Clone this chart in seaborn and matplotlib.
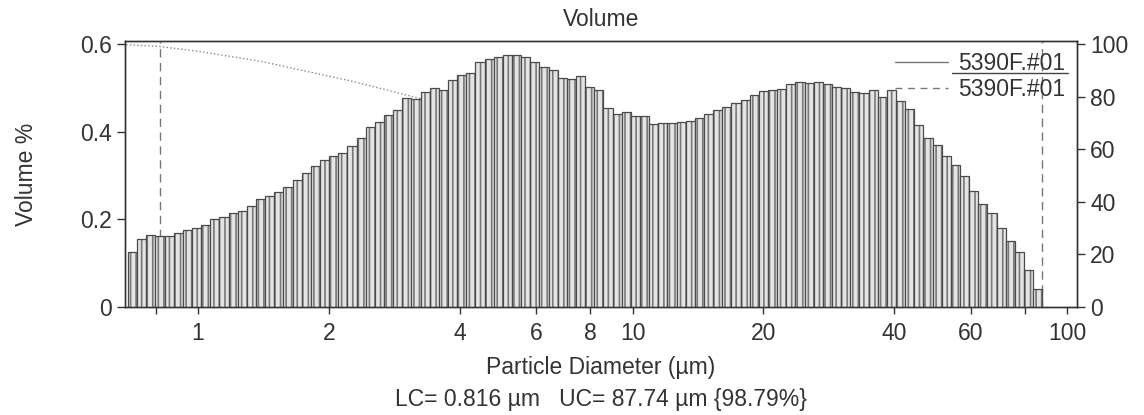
import numpy as np
import pandas as pd
import seaborn as sns
import matplotlib.pyplot as plt
from matplotlib.lines import Line2D
from matplotlib.ticker import NullLocator

# channel grid (um) and volume % per channel
chan_lo = 0.69
chan_hi = 87.7
volume_pct = [
    0.125, 0.155, 0.165, 0.162, 0.163, 0.169, 0.176, 0.181, 0.187, 0.200,
    0.205, 0.215, 0.220, 0.230, 0.246, 0.254, 0.263, 0.274, 0.290, 0.305,
    0.322, 0.336, 0.345, 0.352, 0.368, 0.385, 0.410, 0.423, 0.438, 0.450,
    0.477, 0.475, 0.490, 0.500, 0.495, 0.518, 0.530, 0.535, 0.560, 0.566,
    0.571, 0.575, 0.574, 0.570, 0.558, 0.548, 0.541, 0.522, 0.520, 0.528,
    0.503, 0.496, 0.455, 0.440, 0.444, 0.436, 0.436, 0.418, 0.420, 0.420,
    0.422, 0.425, 0.431, 0.440, 0.450, 0.457, 0.466, 0.473, 0.484, 0.492,
    0.495, 0.497, 0.510, 0.514, 0.512, 0.514, 0.510, 0.503, 0.500, 0.490,
    0.488, 0.495, 0.480, 0.495, 0.470, 0.452, 0.415, 0.385, 0.370, 0.345,
    0.325, 0.300, 0.265, 0.235, 0.214, 0.180, 0.150, 0.125, 0.085, 0.040,
]

# cumulative % (oversize), only the stretch that shows above the bars
cum_diam = [0.67, 0.816, 1.0, 1.4, 1.77, 2.26, 2.86, 3.5]
cum_pct = [100.0, 99.2, 97.4, 93.5, 89.8, 86.0, 81.7, 78.0]

lc = 0.816
uc = 87.74
xticks = [0.8, 1, 2, 4, 6, 8, 10, 20, 40, 60, 80, 100]
xticklabels = ['', '1', '2', '4', '6', '8', '10', '20', '40', '60', '', '100']
yticks_left = [0, 0.2, 0.4, 0.6]
yticklabels_left = ['0', '0.2', '0.4', '0.6']
yticks_right = [0, 20, 40, 60, 80, 100]
legend_labels = ['5390F.#01', '5390F.#01']

sns.set_style('ticks')
plt.rcParams['font.family'] = ['Liberation Sans', 'DejaVu Sans']
plt.rcParams['hatch.linewidth'] = 1.2
plt.rcParams['hatch.color'] = '#777777'

ink = '#333333'
fs = 16.5

n = len(volume_pct)
lo, hi = np.log10(chan_lo), np.log10(chan_hi)
step = (hi - lo) / n
df = pd.DataFrame({
    'diameter': 10 ** (lo + (np.arange(n) + 0.5) * step),
    'volume': volume_pct,
})

fig = plt.figure(figsize=(11.44, 4.15), dpi=100)
ax = fig.add_axes([0.1093, 0.2602, 0.8322, 0.6410])
ax2 = ax.twinx()
ax.set_zorder(ax2.get_zorder() + 1)
ax.patch.set_visible(False)

sns.histplot(data=df, x='diameter', weights='volume', bins=n, binrange=(lo, hi),
             log_scale=True, element='bars', fill=True, color='#e4e4e4',
             edgecolor='#4a4a4a', linewidth=0.9, alpha=1, hatch='|||',
             ax=ax, zorder=2)
for p in ax.patches:
    p.set_hatch('|||')
    if hasattr(p, 'set_hatchcolor'):
        p.set_hatchcolor('#777777')
    else:
        p._hatch_color = (0.47, 0.47, 0.47, 1.0)

# LC / UC markers behind the bars
ax.axvline(lc, color='#777777', lw=1, ls=(0, (6, 4)), zorder=1)
ax.axvline(uc, color='#777777', lw=1, ls=(0, (6, 4)), zorder=1)

sns.lineplot(x=cum_diam, y=cum_pct, ax=ax2, color='#888888', lw=1, ls=':')

ax.set_xscale('log')
ax.set_xlim(0.679, 105.5)
ax.set_ylim(0, 0.607)
ax2.set_ylim(0, 101.3)

ax.set_xticks(xticks)
ax.set_xticklabels(xticklabels)
ax.xaxis.set_minor_locator(NullLocator())
ax.set_yticks(yticks_left)
ax.set_yticklabels(yticklabels_left)
ax2.set_yticks(yticks_right)

for a in (ax, ax2):
    a.tick_params(direction='out', length=6, width=1, colors=ink, labelsize=fs)
    for s in a.spines.values():
        s.set_color(ink)
        s.set_linewidth(1)
        s.set_visible(True)
ax.tick_params(axis='x', length=5, pad=6)

ax.set_title('Volume', fontsize=fs, color=ink, pad=11)
ax.set_xlabel('Particle Diameter (µm)', fontsize=fs, color=ink, labelpad=8)
ax.set_ylabel('Volume %', fontsize=fs, color=ink, labelpad=30)
ax2.set_ylabel('')

handles = [Line2D([], [], color='#777777', lw=1),
           Line2D([], [], color='#777777', lw=1, ls=(0, (5, 4)))]
leg = ax.legend(handles=handles, labels=legend_labels, loc='upper right',
                frameon=False, fontsize=fs, handlelength=2.3, handletextpad=0.45,
                labelspacing=0.12, borderaxespad=0.1)
for t in leg.get_texts():
    t.set_color(ink)
ax.plot([0.869, 0.99], [0.88, 0.88], transform=ax.transAxes, color='#444444', lw=1)

fig.text(0.5254, 0.038, 'LC= 0.816 µm   UC= 87.74 µm {98.79%}',
         ha='center', va='center', fontsize=fs, color=ink)

fig.savefig('out.png', dpi=100)
